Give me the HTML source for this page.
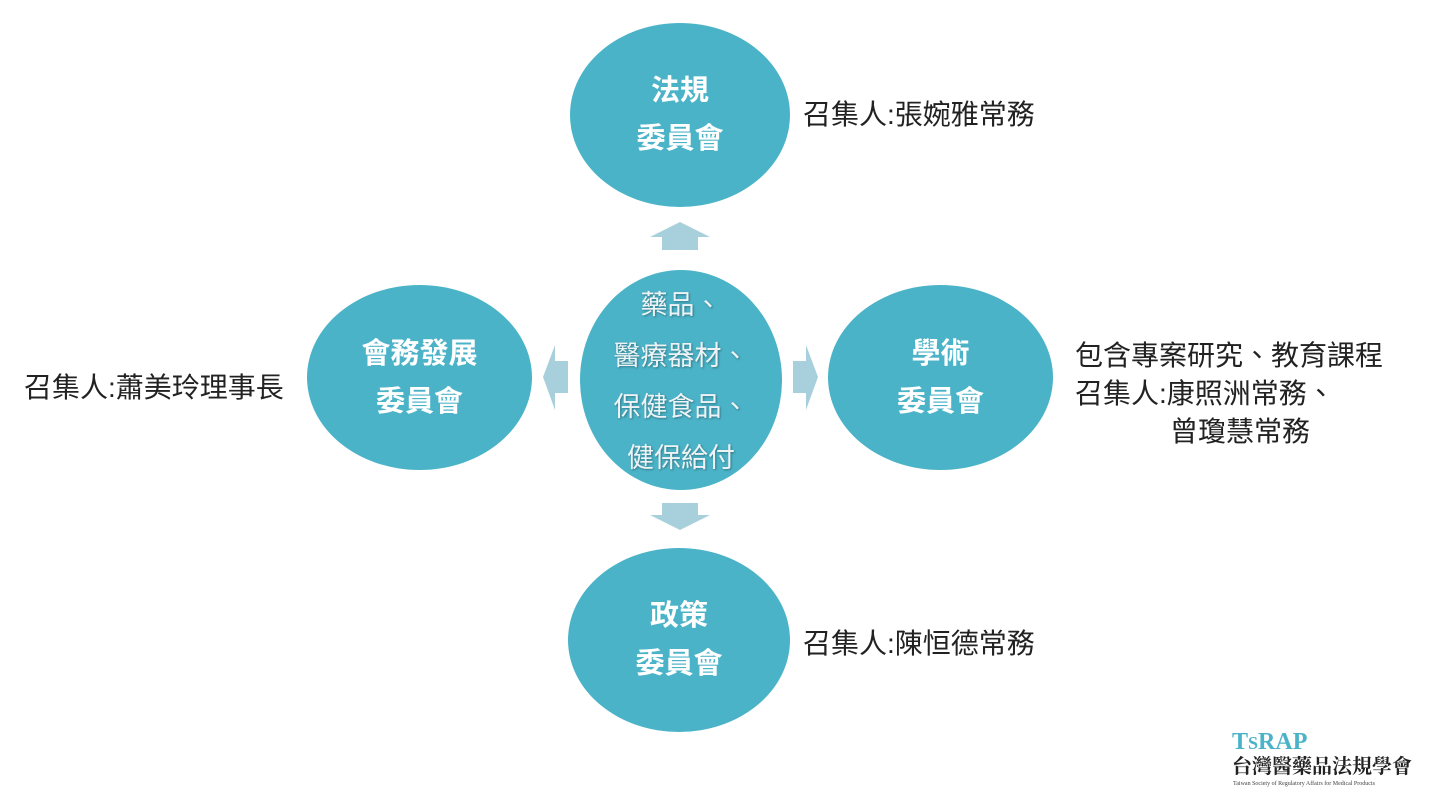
<!DOCTYPE html>
<html><head><meta charset="utf-8"><style>
body{margin:0;width:1432px;height:807px;background:#fff;overflow:hidden;position:relative;font-family:"Liberation Sans","Noto Sans CJK TC",sans-serif}
.c{position:absolute;background:#4bb3c8;border-radius:50%;color:#fff;display:flex;flex-direction:column;align-items:center;justify-content:center;font-weight:bold;font-size:29px;line-height:48px;text-align:center}
.c div{white-space:nowrap}
.t{position:absolute;font-size:28px;color:#222;line-height:38px;white-space:nowrap}
.ctr{font-weight:normal;color:#eef4f6;text-shadow:1px 1px 2px rgba(0,0,0,.35);line-height:51px;font-size:27px}
</style></head><body>
<div class="c" style="left:570px;top:23px;width:220px;height:184px"><div>法規</div><div>委員會</div></div>
<div class="c" style="left:307px;top:285px;width:225px;height:185px"><div>會務發展</div><div>委員會</div></div>
<div class="c" style="left:828px;top:285px;width:225px;height:185px"><div>學術</div><div>委員會</div></div>
<div class="c" style="left:568px;top:548px;width:222px;height:184px"><div>政策</div><div>委員會</div></div>
<div class="c ctr" style="left:580px;top:270px;width:202px;height:220px;padding-top:4px;box-sizing:border-box"><div>藥品、</div><div>醫療器材、</div><div>保健食品、</div><div>健保給付</div></div>
<svg width="1432" height="807" style="position:absolute;left:0;top:0">
<g fill="#a8cfdc">
<polygon points="650,237 680,222 710,237 698,237 698,250 662,250 662,237"/>
<polygon points="650,515 680,530 710,515 698,515 698,503 662,503 662,515"/>
<polygon points="555,345 543,377 555,410 555,393 568,393 568,361 555,361"/>
<polygon points="806,345 818,377 806,410 806,393 793,393 793,361 806,361"/>
</g></svg>
<div class="t" style="left:803px;top:96px">召集人:張婉雅常務</div>
<div class="t" style="left:24px;top:369px">召集人:蕭美玲理事長</div>
<div class="t" style="left:1075px;top:337px">包含專案研究、教育課程</div>
<div class="t" style="left:1075px;top:375px">召集人:康照洲常務、</div>
<div class="t" style="left:1170px;top:413px">曾瓊慧常務</div>
<div class="t" style="left:803px;top:625px">召集人:陳恒德常務</div>
<div style="position:absolute;left:1232px;top:730px;font-family:'Liberation Serif',serif;font-weight:bold;font-size:24px;color:#4bb3c8;line-height:24px">T<span style="font-size:18px">S</span>RAP</div>
<div style="position:absolute;left:1232px;top:756px;font-family:'Liberation Serif','Noto Serif CJK SC',serif;font-weight:bold;font-size:20px;color:#222;line-height:22px">台灣醫藥品法規學會</div>
<div style="position:absolute;left:1233px;top:781px;font-family:'Liberation Serif',serif;font-size:6px;color:#444">Taiwan Society of Regulatory Affairs for Medical Products</div>
</body></html>
